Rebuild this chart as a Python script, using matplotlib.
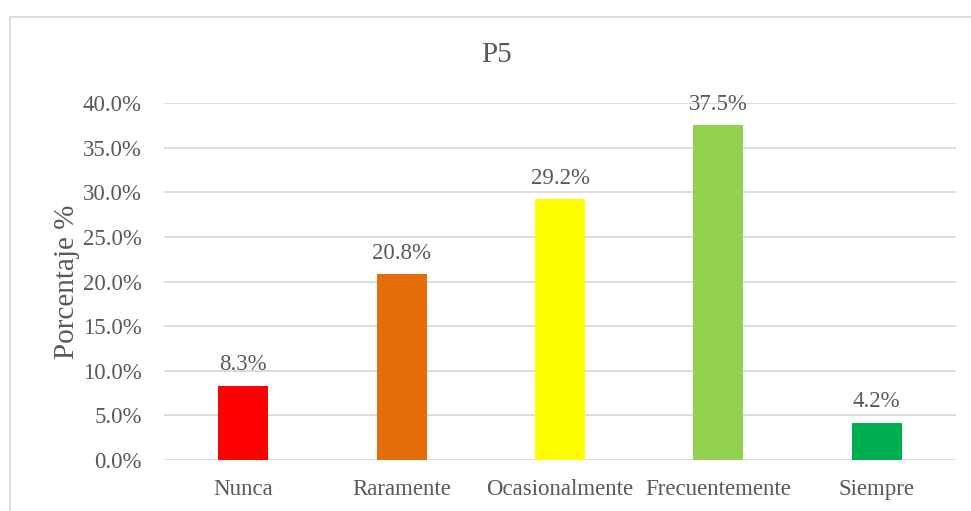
import matplotlib
matplotlib.use('Agg')
import matplotlib.pyplot as plt
from matplotlib.patches import Rectangle
from matplotlib.ticker import PercentFormatter

categorias = ['Nunca', 'Raramente', 'Ocasionalmente', 'Frecuentemente', 'Siempre']
porcentajes = [8.3, 20.8, 29.2, 37.5, 4.2]
colores = ['#FF0000', '#E46C0A', '#FFFF00', '#92D050', '#00B050']
yticks = [0, 5, 10, 15, 20, 25, 30, 35, 40]

gris = '#595959'
plt.rcParams['font.family'] = ['Liberation Serif', 'DejaVu Serif']

fig = plt.figure(figsize=(9.71, 5.11), dpi=100)
ax = fig.add_axes([164/971, 1 - 460/511, (956 - 164)/971, (460 - 103)/511])

x = range(len(categorias))
ax.bar(x, porcentajes, width=0.316, color=colores, zorder=3)
for xi, v in zip(x, porcentajes):
    ax.text(xi, v + 1.2, '%.1f%%' % v, ha='center', va='bottom', fontsize=16.5, color=gris)

ax.set_xlim(-0.5, len(categorias) - 0.5)
ax.set_ylim(0, 40)
ax.set_yticks(yticks)
ax.yaxis.set_major_formatter(PercentFormatter(decimals=1))
ax.set_xticks(list(x))
ax.set_xticklabels(categorias)
ax.tick_params(axis='both', length=0, labelsize=16.5, labelcolor=gris)
ax.tick_params(axis='x', pad=14)
ax.tick_params(axis='y', pad=16)
ax.grid(axis='y', color='#D9D9D9', linewidth=1.3, zorder=0)
for s in ax.spines.values():
    s.set_visible(False)

ax.set_ylabel('Porcentaje %', fontsize=21, color=gris, labelpad=2)
fig.text(497/971, 1 - 55/511, 'P5', ha='center', va='center', fontsize=21, color=gris)

# chart border (cut off by the image on the right and bottom)
fig.patches.append(Rectangle((10/971, -0.1), 1.2, 1 - 17/511 + 0.1, transform=fig.transFigure,
                             fill=False, edgecolor='#D9D9D9', linewidth=1.3))

fig.savefig('out.png', dpi=100)
